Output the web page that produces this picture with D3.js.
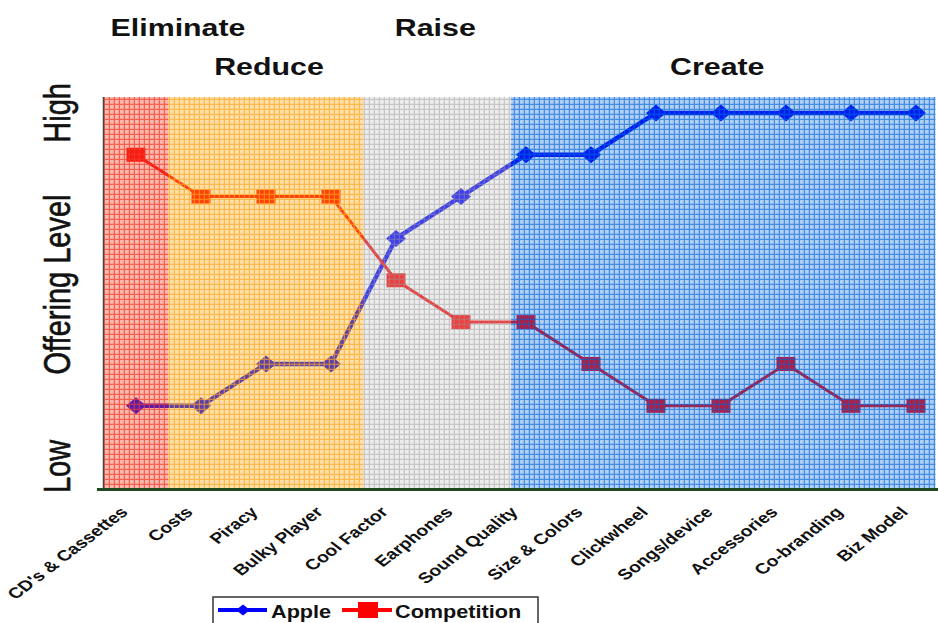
<!doctype html>
<html>
<head>
<meta charset="UTF-8">
<title>Value Curve</title>
<script src="https://cdn.jsdelivr.net/npm/d3@7"></script>
<style>
  body { margin: 0; background: #fff; }
  text { font-family: "Liberation Sans", Arial, sans-serif; }
</style>
</head>
<body>
<script>
var categories = ["CD's & Cassettes", "Costs", "Piracy", "Bulky Player", "Cool Factor", "Earphones",
                  "Sound Quality", "Size & Colors", "Clickwheel", "Songs/device", "Accessories",
                  "Co-branding", "Biz Model"];
var apple = [2, 2, 3, 3, 6, 7, 8, 8, 9, 9, 9, 9, 9];
var competition = [8, 7, 7, 7, 5, 4, 4, 3, 2, 2, 3, 2, 2];
var seriesNames = ["Apple", "Competition"];

// strategy bands, in category units
var bandNames = ["Eliminate", "Reduce", "Raise", "Create"];
var bandStart = [0, 1, 4, 6.27];
var bandEnd = [1, 4, 6.27, 12.8];

var levelLabels = ["Low", "Offering Level", "High"];
var levelValues = [0.55, 4.9, 9];

var w = 938, h = 623;
var plotL = 103.5, plotR = 948.5, plotT = 97, plotB = 489.5;

var svg = d3.select("body").append("svg")
    .attr("width", w)
    .attr("height", h);

var x = d3.scaleBand().domain(categories).range([plotL, plotR]);
var u = d3.scaleLinear().domain([0, categories.length]).range([plotL, plotR]);
var y = d3.scaleLinear().domain([0, 9.38]).range([plotB, plotT]);
var cx = function(d, i){ return x(categories[i]) + x.bandwidth() / 2; };

// grid patterns for the bands
var patterns = [
    {id: "pRed",    cell: "rgba(240,70,45,0.38)",  line: "rgba(240,60,40,0.70)"},
    {id: "pOrange", cell: "rgba(250,170,30,0.38)", line: "rgba(250,165,30,0.66)"},
    {id: "pGrey",   cell: "rgba(200,200,200,0.32)", line: "rgba(150,150,150,0.45)"},
    {id: "pBlue",   cell: "rgba(0,100,216,0.30)",  line: "rgba(0,100,216,0.62)"}
];
var defs = svg.append("defs");
patterns.forEach(function(p){
    var pat = defs.append("pattern")
        .attr("id", p.id)
        .attr("patternUnits", "userSpaceOnUse")
        .attr("width", 5).attr("height", 5);
    pat.append("rect").attr("width", 5).attr("height", 5).attr("fill", p.cell);
    pat.append("path").attr("d", "M0 4.4H5M4.4 0V5")
        .attr("stroke", p.line).attr("stroke-width", 1.3).attr("fill", "none");
});
defs.append("clipPath").attr("id", "plotClip")
    .append("rect").attr("x", plotL).attr("y", plotT).attr("width", plotR - plotL).attr("height", plotB - plotT);

// lines
var line = d3.line().x(cx).y(function(d){ return y(d); });
var plot = svg.append("g").attr("clip-path", "url(#plotClip)");

plot.append("path").datum(apple)
    .attr("d", line).attr("fill", "none")
    .attr("stroke", "#0000ff").attr("stroke-width", 4.5).attr("stroke-linejoin", "round");
plot.selectAll(".dia").data(apple).enter().append("path")
    .attr("class", "dia")
    .attr("d", function(d, i){
        var px = cx(d, i), py = y(d);
        return "M" + (px - 10) + " " + py + "L" + px + " " + (py - 8.5) + "L" + (px + 10) + " " + py + "L" + px + " " + (py + 8.5) + "Z";
    })
    .attr("fill", "#0000ff");

plot.append("path").datum(competition)
    .attr("d", line).attr("fill", "none")
    .attr("stroke", "#ff0000").attr("stroke-width", 3);
plot.selectAll(".sq").data(competition).enter().append("rect")
    .attr("class", "sq")
    .attr("x", function(d, i){ return cx(d, i) - 9.5; })
    .attr("y", function(d){ return y(d) - 7; })
    .attr("width", 19).attr("height", 14)
    .attr("fill", "#ff0000");

// band overlays on top of the lines
svg.append("g").selectAll("rect").data(bandNames).enter().append("rect")
    .attr("x", function(d, i){ return u(bandStart[i]); })
    .attr("y", plotT)
    .attr("width", function(d, i){ return u(bandEnd[i]) - u(bandStart[i]); })
    .attr("height", plotB - plotT)
    .attr("fill", function(d, i){ return "url(#" + patterns[i].id + ")"; });

// axes
svg.append("line")
    .attr("x1", plotL).attr("x2", plotL).attr("y1", plotT).attr("y2", plotB)
    .attr("stroke", "#444").attr("stroke-width", 1.5);
svg.append("line")
    .attr("x1", 97).attr("x2", w).attr("y1", plotB).attr("y2", plotB)
    .attr("stroke", "#1f4a1f").attr("stroke-width", 3);

// category labels
svg.append("g").selectAll("g").data(categories).enter().append("g")
    .attr("transform", function(d){ return "translate(" + (x(d) + x.bandwidth() / 2 - 7) + "," + 513 + ")"; })
    .append("text")
    .attr("transform", "scale(1.3,1) rotate(-45)")
    .attr("text-anchor", "end")
    .attr("font-size", 15)
    .attr("font-weight", "bold")
    .attr("fill", "#111")
    .text(function(d){ return d; });

// y labels
svg.append("g").selectAll("text").data(levelLabels).enter().append("text")
    .attr("transform", function(d, i){ return "translate(70," + y(levelValues[i]) + ") scale(1.3,1) rotate(-90)"; })
    .attr("text-anchor", "middle")
    .attr("font-size", 29)
    .attr("fill", "#111")
    .attr("stroke", "#111").attr("stroke-width", 0.5)
    .text(function(d){ return d; });

// band headers
var headDx = [42, 3, -2, -6];
var headY = [36, 75, 36, 75];
svg.append("g").selectAll("text").data(bandNames).enter().append("text")
    .attr("transform", function(d, i){
        var mid = (u(bandStart[i]) + u(bandEnd[i])) / 2 + headDx[i];
        return "translate(" + mid + "," + headY[i] + ") scale(1.32,1)";
    })
    .attr("text-anchor", "middle")
    .attr("font-size", 23)
    .attr("font-weight", "bold")
    .attr("fill", "#111")
    .text(function(d){ return d; });

// legend
var lg = svg.append("g");
lg.append("rect").attr("x", 213).attr("y", 597).attr("width", 325).attr("height", 40)
    .attr("fill", "#fff").attr("stroke", "#333").attr("stroke-width", 1.5);
lg.append("line").attr("x1", 218).attr("x2", 267).attr("y1", 610).attr("y2", 610)
    .attr("stroke", "#0000ff").attr("stroke-width", 4);
lg.append("path").attr("d", "M236 610L243 604.5L250 610L243 615.5Z").attr("fill", "#0000ff");
lg.append("line").attr("x1", 342).attr("x2", 392).attr("y1", 610).attr("y2", 610)
    .attr("stroke", "#ff0000").attr("stroke-width", 4);
lg.append("rect").attr("x", 358).attr("y", 602).attr("width", 20).attr("height", 16).attr("fill", "#ff0000");
lg.selectAll("text").data(seriesNames).enter().append("text")
    .attr("transform", function(d, i){ return "translate(" + (i ? 395 : 271) + ",618) scale(1.14,1)"; })
    .attr("font-size", 19)
    .attr("font-weight", "bold")
    .attr("fill", "#111")
    .text(function(d){ return d; });
</script>
</body>
</html>
